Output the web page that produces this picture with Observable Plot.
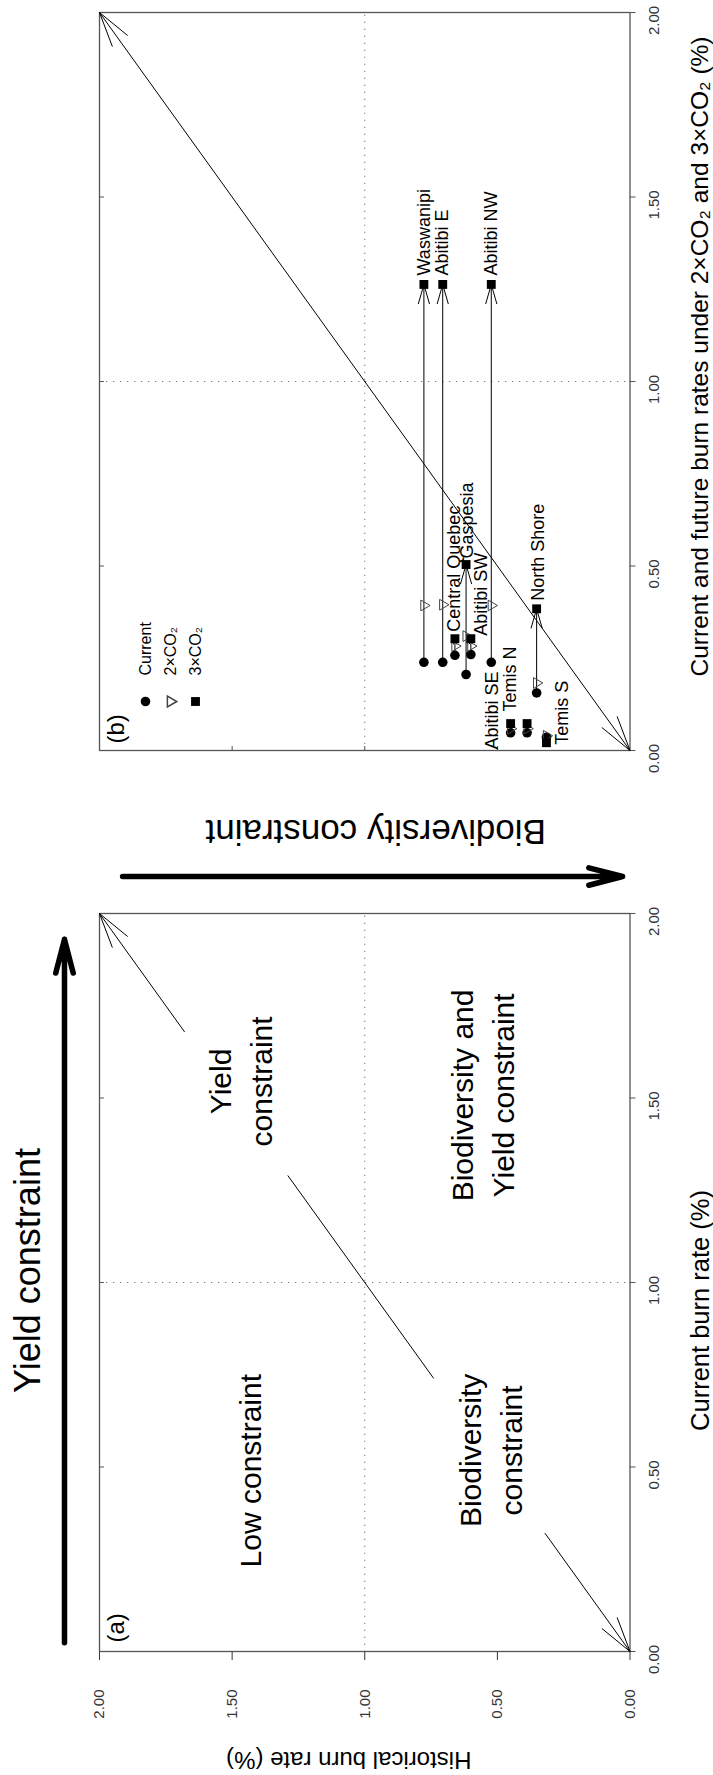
<!DOCTYPE html>
<html><head><meta charset="utf-8">
<script src="https://cdn.jsdelivr.net/npm/d3@7"></script>
<script src="https://cdn.jsdelivr.net/npm/@observablehq/plot@0.6"></script>
<style>
html,body{margin:0;padding:0;background:#fff;overflow:hidden;width:713px;height:1775px;}
#fig{position:absolute;left:0;top:0;width:1775px;height:713px;transform-origin:0 0;transform:translate(0px,1775px) rotate(-90deg);display:flex;font-family:"Liberation Sans",Arial,Helvetica,sans-serif;background:#fff;}
#fig svg{display:block;overflow:visible;}
</style></head><body><div id="fig"></div>
<script>
// ---- data: panel (b) regions ----
const regions    = ["Waswanipi","Abitibi E","Abitibi NW","Central Quebec","Abitibi SW","Gaspesia","North Shore","Abitibi SE","Temis N","Temis S"];
const historical = [0.777, 0.706, 0.523, 0.660, 0.600, 0.618, 0.352, 0.450, 0.388, 0.315];
const current    = [0.239, 0.239, 0.239, 0.258, 0.260, 0.206, 0.156, 0.048, 0.048, 0.036];
const co2x2      = [0.393, 0.395, 0.393, 0.283, 0.283, 0.310, 0.183, 0.059, 0.059, 0.040];
const co2x3      = [1.263, 1.263, 1.263, 0.303, 0.303, 0.504, 0.384, 0.073, 0.073, 0.021];
// ---- ticks / legend ----
const axisTicks  = [0, 0.5, 1, 1.5, 2];
const innerTicks = [0.5, 1, 1.5];
const legendItems = ["Current", "2×CO₂", "3×CO₂"];
// ---- panel (a) annotation content ----
const zoneLabels = ["Low constraint", "Biodiversity\nconstraint", "Yield\nconstraint", "Biodiversity and\nYield constraint"];
const zoneX      = [0.49, 0.545, 1.545, 1.507];
const zoneY      = [1.44, 0.535, 1.478, 0.564];
const diagArrowsA = [{x1: 0.32, y1: 0.32, x2: 0, y2: 0}, {x1: 1.68, y1: 1.68, x2: 2, y2: 2}];
const diagSegmentA = [{x1: 0.74, y1: 0.74, x2: 1.29, y2: 1.29}];
const diagArrowsB = [{x1: 1, y1: 1, x2: 2, y2: 2}, {x1: 1, y1: 1, x2: 0, y2: 0}];
const yieldArrow = [{x1: 0.024, x2: 1.93, y: 2.132}];
const bioArrow   = [{x: -0.3415, y1: 1.913, y2: 0.028}];

// ---- layout (original landscape orientation, then rotated) ----
const FONT = '"Liberation Sans", Arial, Helvetica, sans-serif';
const H = 713, MT = 99, MB = 83.5, PW = 738, PH = H - MT - MB;
const fmt = d3.format(".2f");
const labelNudge = [[9,0],[9,0],[9,0],[7,-1],[3,10],[6,1],[8,2],[-26,-18],[12,-17],[-2,16]];
const idx = d3.range(regions.length);
const base = {height: H, marginTop: MT, marginBottom: MB,
  x: {domain: [0, 2]},
  style: {fontFamily: FONT, background: "transparent", overflow: "visible"}};
const dotted = {stroke: "#777", strokeDasharray: "1.3,5.7", strokeWidth: 1};

function commonMarks(){
  return [
    Plot.ruleX([1], dotted),
    Plot.ruleY([1], dotted),
    Plot.frame({stroke: "#555", strokeWidth: 1.3}),
    Plot.tickX(innerTicks, {x: d => d, insetBottom: PH - 5, stroke: "#555"}),
    Plot.axisX(axisTicks, {anchor: "bottom", tickSize: 6, tickFormat: () => "", color: "#555", label: null}),
    Plot.axisX(axisTicks, {anchor: "bottom", tickSize: 0, tickPadding: 18, dx: -8, tickFormat: fmt, fontSize: 15, color: "#333", label: null})
  ];
}
const mid = {textAnchor: "middle", lineAnchor: "middle", fill: "black"};

// ---------- panel (a) ----------
const WA = 900;
const panelA = Plot.plot({
  ...base, y: {domain: [0, 2]}, width: WA, marginLeft: 123, marginRight: WA - 123 - PW,
  marks: [
    ...commonMarks(),
    Plot.axisY(axisTicks, {anchor: "left", tickSize: 8, tickPadding: 30, tickFormat: fmt, fontSize: 15, color: "#333", label: null}),
    Plot.arrow(diagArrowsA, {x1: "x1", y1: "y1", x2: "x2", y2: "y2", stroke: "black", strokeWidth: 1, headLength: 54, headAngle: 30}),
    Plot.link(diagSegmentA, {x1: "x1", y1: "y1", x2: "x2", y2: "y2", stroke: "black", strokeWidth: 1}),
    ...zoneLabels.map((t, i) => Plot.text([t], {x: () => zoneX[i], y: () => zoneY[i], text: d => d, fontSize: 30, lineHeight: 1.37, fill: "black"})),
    Plot.text(["(a)"], {frameAnchor: "top-left", text: d => d, dx: 9, dy: 7, lineAnchor: "top", textAnchor: "start", fontSize: 24, fill: "black"}),
    Plot.arrow(yieldArrow, {x1: "x1", x2: "x2", y1: "y", y2: "y", stroke: "black", strokeWidth: 5.5, headLength: 9.5, headAngle: 29, strokeLinecap: "round", strokeLinejoin: "round"}),
    Plot.text(["Yield constraint"], {frameAnchor: "top", text: d => d, dx: 12, dy: -71, fontSize: 36, ...mid}),
    Plot.text(["Current burn rate (%)"], {frameAnchor: "bottom", text: d => d, dx: -28, dy: 70.5, fontSize: 25.5, ...mid}),
    Plot.text(["Historical burn rate (%)"], {frameAnchor: "left", text: d => d, dx: -108, dy: -16, rotate: -90, fontSize: 24, ...mid})
  ]
});

// ---------- panel (b) ----------
const WB = 875;
const panelB = Plot.plot({
  ...base, y: {domain: [0, 2], axis: null}, width: WB, marginLeft: 124, marginRight: WB - 124 - PW,
  marks: [
    ...commonMarks(),
    Plot.tickY(innerTicks, {y: d => d, insetRight: PW - 5, stroke: "#555"}),
    Plot.arrow(diagArrowsB, {x1: "x1", y1: "y1", x2: "x2", y2: "y2", stroke: "black", strokeWidth: 1, headLength: 54, headAngle: 30}),
    Plot.arrow(idx, {x1: i => current[i], x2: i => co2x3[i], y1: i => historical[i], y2: i => historical[i], stroke: "black", strokeWidth: 1, headLength: 30, headAngle: 32}),
    Plot.dot(idx, {x: i => current[i], y: i => historical[i], symbol: "circle", r: 4.8, fill: "black"}),
    Plot.dot(idx, {x: i => co2x2[i], y: i => historical[i], symbol: "triangle", rotate: 180, r: 4, stroke: "#444", strokeWidth: 1, fill: "none"}),
    Plot.dot(idx, {x: i => co2x3[i], y: i => historical[i], symbol: "square", r: 5, fill: "black"}),
    ...idx.map(i => Plot.text([i], {x: j => co2x3[j], y: j => historical[j], text: j => regions[j], dx: labelNudge[i][0], dy: labelNudge[i][1], textAnchor: "start", fontSize: 18, fill: "black"})),
    ...legendItems.map((t, i) => Plot.dot([t], {frameAnchor: "top-left", dx: 49, dy: 46 + 25 * i,
        symbol: ["circle", "triangle", "square"][i], rotate: i === 1 ? 180 : 0, r: [4.8, 4, 5][i],
        fill: i === 1 ? "none" : "black", stroke: i === 1 ? "#444" : "none"})),
    ...legendItems.map((t, i) => Plot.text([t], {frameAnchor: "top-left", text: d => d, dx: 75, dy: 46 + 25 * i, textAnchor: "start", lineAnchor: "middle", fontSize: 16, fill: "black"})),
    Plot.text(["(b)"], {frameAnchor: "top-left", text: d => d, dx: 7, dy: 7, lineAnchor: "top", textAnchor: "start", fontSize: 24, fill: "black"}),
    Plot.arrow(bioArrow, {x1: "x", x2: "x", y1: "y1", y2: "y2", stroke: "black", strokeWidth: 5.5, headLength: 9.5, headAngle: 29, strokeLinecap: "round", strokeLinejoin: "round"}),
    Plot.text(["Biodiversity constraint"], {frameAnchor: "left", text: d => d, dx: -81, dy: 11, rotate: -90, fontSize: 35, ...mid}),
    Plot.text(["Current and future burn rates under 2×CO₂ and 3×CO₂ (%)"], {frameAnchor: "bottom", text: d => d, dx: 25, dy: 70.5, fontSize: 24.5, ...mid})
  ]
});

const fig = document.getElementById("fig");
fig.append(panelA, panelB);
</script>
</body></html>
